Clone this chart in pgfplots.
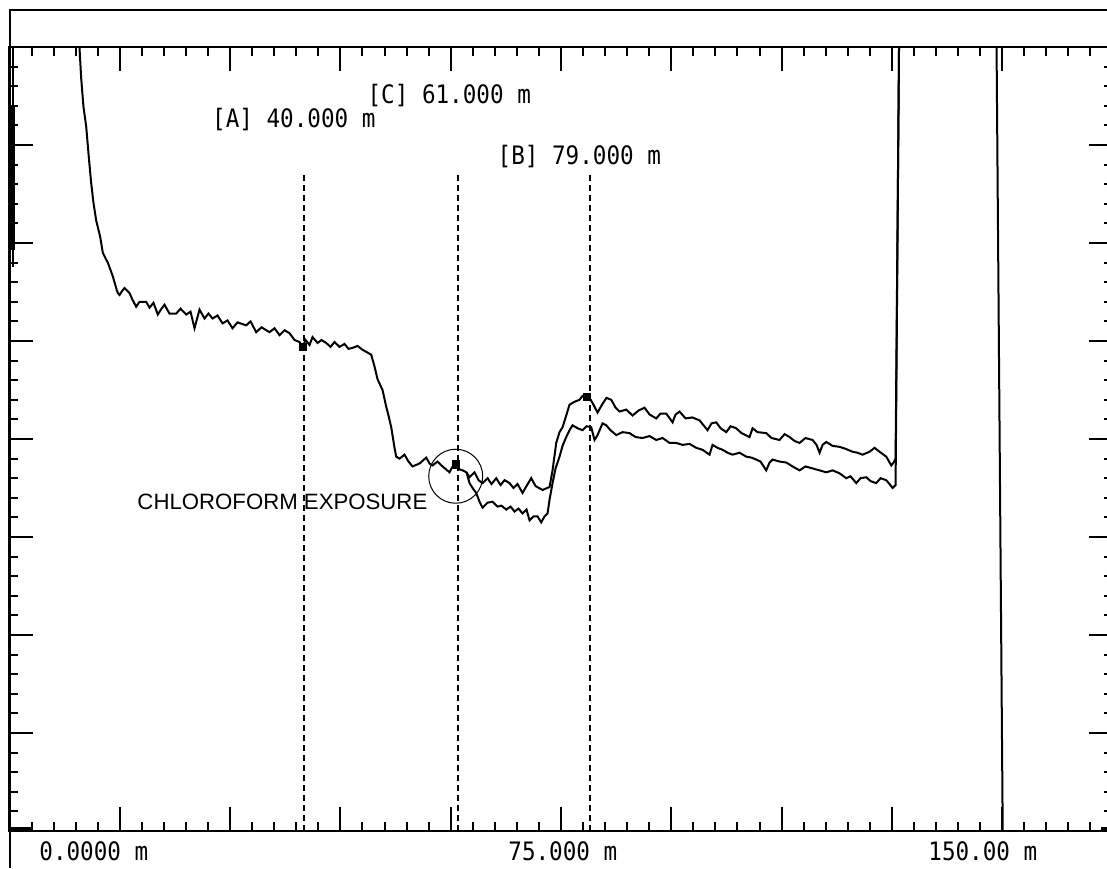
\documentclass[border=0pt]{standalone}
\usepackage{pgfplots}
\pgfplotsset{compat=1.18}
\usepackage{fontspec}
\setmainfont{Liberation Sans}
\newfontfamily\otdr[FakeStretch=0.89]{DejaVu Sans Mono}
\begin{document}
\begin{tikzpicture}
\path[use as bounding box] (0,0) rectangle (553.5pt,434pt);
\fill[white] (0,0) rectangle (553.5pt,434pt);
\draw[line width=0.6pt] (5pt,0) -- (5pt,429pt) -- (560pt,429pt);
\begin{axis}[
  at={(4.75pt,18.5pt)}, anchor=south west,
  scale only axis, width=551.5pt, height=392pt,
  xmin=0, xmax=150, ymin=0, ymax=8,
  xtick={0,15,...,150}, minor x tick num=4,
  ytick={0,1,...,8}, minor y tick num=4,
  xticklabels={}, yticklabels={},
  xtick pos=both, ytick pos=both,
  tick align=inside, major tick length=12pt, minor tick length=4.5pt,
  tick style={black, line width=1pt},
  axis line style={line width=1pt},
  clip=true,
]
% dashed cursor lines
\addplot[black, line width=1pt, dash pattern=on 3pt off 2pt] coordinates {(40,0) (40,6.73)};
\addplot[black, line width=1pt, dash pattern=on 3pt off 2pt] coordinates {(61,0) (61,6.73)};
\addplot[black, line width=1pt, dash pattern=on 3pt off 2pt] coordinates {(79,0) (79,6.73)};
% launch at left edge
\addplot[black, line width=1pt] coordinates {(0.45,8.3) (0.45,5.76)};
\addplot[black, line width=2.2pt] coordinates {(0.45,7.39) (0.45,5.93)};
\addplot[black, line width=2pt] coordinates {(0,0.02) (3.2,0.02)};
\addplot[black, line width=2pt] coordinates {(148.4,0.02) (150,0.02)};
% upper trace
\addplot[black, line width=1pt] coordinates {
(9.45,8.17)(9.52,7.99)(9.75,7.68)(10.06,7.39)(10.43,7.19)(10.78,6.88)(11.11,6.61)(11.42,6.41)(11.79,6.23)(12.34,6.06)
(12.69,5.90)(13.15,5.83)(13.37,5.80)(14.05,5.66)(14.59,5.52)(14.73,5.49)(14.96,5.47)(15.41,5.52)(15.64,5.54)(16.32,5.49)
(16.73,5.42)(17.23,5.35)(17.68,5.40)(18.59,5.40)(19.04,5.34)(19.58,5.39)(20.17,5.27)(20.67,5.33)(21.08,5.37)(21.76,5.28)
(22.67,5.28)(23.26,5.33)(24.03,5.27)(24.62,5.30)(25.16,5.13)(25.84,5.32)(26.52,5.23)(27.06,5.28)(27.61,5.23)(28.29,5.26)
(28.97,5.18)(29.65,5.21)(30.33,5.13)(31.01,5.19)(32.19,5.16)(32.78,5.20)(33.55,5.09)(34.27,5.14)(35.36,5.09)(36.04,5.13)
(36.72,5.06)(37.40,5.11)(38.08,5.08)(38.76,5.01)(39.44,4.99)(39.85,4.94)(40.26,5.01)(40.80,4.96)(41.21,5.04)(41.89,4.98)
(42.43,5.01)(43.07,4.98)(43.66,4.94)(44.20,4.99)(44.88,4.94)(45.56,4.97)(46.10,4.92)(46.65,4.93)(47.33,4.95)(48.01,4.91)
(48.51,4.89)(49.19,4.86)(49.64,4.74)(50.05,4.61)(50.73,4.50)(51.23,4.33)(51.54,4.24)(51.91,4.12)(52.36,3.91)(52.59,3.82)
(53.04,3.80)(53.72,3.84)(54.26,3.77)(54.81,3.72)(55.76,3.75)(56.67,3.81)(57.12,3.75)(57.53,3.73)(58.21,3.77)(58.89,3.72)
(59.84,3.66)(60.25,3.72)(60.75,3.73)(61.20,3.69)(61.61,3.68)(62.15,3.66)
(62.56,3.61)(63.24,3.66)(63.79,3.58)(64.33,3.55)(65.01,3.60)(65.55,3.54)(66.19,3.60)(66.78,3.53)(67.32,3.58)(68.00,3.55)
(68.54,3.50)(69.09,3.54)(69.77,3.45)(70.31,3.52)(70.95,3.60)(71.54,3.52)(72.49,3.48)(73.44,3.51)(73.85,3.68)(74.35,3.96)
(74.80,4.07)(75.21,4.12)(75.71,4.24)(76.16,4.35)(76.84,4.38)(77.52,4.40)(77.93,4.44)(78.43,4.43)(78.88,4.42)(79.42,4.35)
(79.97,4.27)(80.65,4.36)(81.19,4.42)(81.83,4.40)(82.42,4.32)(82.96,4.28)(83.87,4.30)(84.73,4.24)(85.54,4.29)(86.36,4.32)
(87.04,4.25)(87.95,4.21)(88.54,4.26)(89.31,4.26)(90.17,4.17)(90.58,4.25)(91.12,4.28)(91.94,4.21)(92.87,4.22)(93.84,4.19)
(94.93,4.09)(95.47,4.16)(96.11,4.17)(96.70,4.11)(97.47,4.07)(98.06,4.13)(98.83,4.11)(99.55,4.06)(100.64,4.02)(101.05,4.11)
(101.73,4.07)(102.91,4.06)(103.63,4.01)(104.72,3.99)(105.40,4.05)(106.08,4.02)(106.76,3.98)(107.44,3.96)(108.25,4.01)(109.21,3.99)
(109.75,3.94)(110.16,3.86)(110.57,3.94)(111.07,3.97)(111.93,3.93)(112.88,3.92)(113.70,3.90)(114.65,3.87)(115.33,3.86)(116.01,3.84)
(116.96,3.87)(117.64,3.91)(118.32,3.87)(119.23,3.82)(119.54,3.78)(119.91,3.73)(120.23,3.76)(120.50,3.80)
(121.0,8.3)(134.2,8.3)(135.1,-0.3)(150,-0.3)};
% lower trace
\addplot[black, line width=1pt] coordinates {
(62.15,3.66)(62.56,3.55)(62.97,3.50)(63.47,3.45)(63.92,3.36)(64.33,3.30)(65.01,3.35)(65.69,3.36)(66.37,3.31)(66.91,3.32)
(67.55,3.28)(68.14,3.31)(68.68,3.26)(69.22,3.29)(69.77,3.24)(70.31,3.28)(70.72,3.17)(71.26,3.21)(71.81,3.21)(72.31,3.15)
(72.76,3.21)(73.17,3.24)(73.44,3.38)(73.85,3.55)(74.26,3.70)(74.80,3.82)(75.21,3.93)(75.71,4.02)(76.16,4.09)(76.57,4.14)
(77.25,4.11)(77.93,4.09)(78.47,4.13)(79.11,4.12)(79.56,3.99)(79.97,4.04)(80.65,4.16)(81.15,4.14)(81.73,4.09)(82.51,4.04)
(83.37,4.07)(84.32,4.06)(85.14,4.02)(86.08,4.01)(87.04,4.03)(87.95,3.99)(88.81,4.01)(89.76,3.96)(90.67,3.96)(91.53,3.94)
(92.48,3.95)(93.39,3.91)(94.25,3.89)(95.20,3.84)(95.61,3.94)(96.29,3.91)(96.97,3.89)(97.65,3.86)(98.33,3.84)(99.28,3.86)
(100.19,3.82)(100.91,3.81)(101.55,3.79)(102.13,3.77)(102.91,3.68)(103.36,3.76)(103.77,3.79)(104.72,3.77)(105.63,3.76)(106.49,3.72)
(107.44,3.68)(108.25,3.72)(109.21,3.70)(110.16,3.68)(111.07,3.66)(111.93,3.68)(112.88,3.65)(113.79,3.60)(114.37,3.62)(115.15,3.55)
(115.74,3.60)(116.51,3.61)(117.10,3.57)(117.87,3.55)(118.46,3.60)(119.23,3.58)(119.68,3.54)(120.09,3.50)(120.50,3.53)
(121.0,8.3)};
% cursor markers on trace
\addplot[black, only marks, mark=square*, mark size=1.8pt] coordinates {(39.9,4.94) (60.7,3.74) (78.5,4.43)};
% labels
\node[anchor=west, inner sep=0pt, font=\otdr\fontsize{12.7pt}{14pt}\selectfont] at (axis cs:48.64,7.51) {[C] 61.000 m};
\node[anchor=west, inner sep=0pt, font=\otdr\fontsize{12.7pt}{14pt}\selectfont] at (axis cs:27.51,7.26) {[A] 40.000 m};
\node[anchor=west, inner sep=0pt, font=\otdr\fontsize{12.7pt}{14pt}\selectfont] at (axis cs:66.33,6.88) {[B] 79.000 m};
\node[anchor=west, inner sep=0pt, font=\fontsize{11.1pt}{13pt}\selectfont] at (axis cs:17.35,3.36) {CHLOROFORM EXPOSURE};
\draw[line width=0.5pt] (axis cs:60.68,3.62) circle [radius=13.5pt];
\end{axis}
\begin{scope}[font=\otdr\fontsize{12.7pt}{14pt}\selectfont]
\node[anchor=west, inner sep=0pt] at (19.5pt,8.5pt) {0.0000 m};
\node[anchor=west, inner sep=0pt] at (254pt,8.5pt) {75.000 m};
\node[anchor=west, inner sep=0pt] at (464pt,8.5pt) {150.00 m};
\end{scope}
\end{tikzpicture}
\end{document}
